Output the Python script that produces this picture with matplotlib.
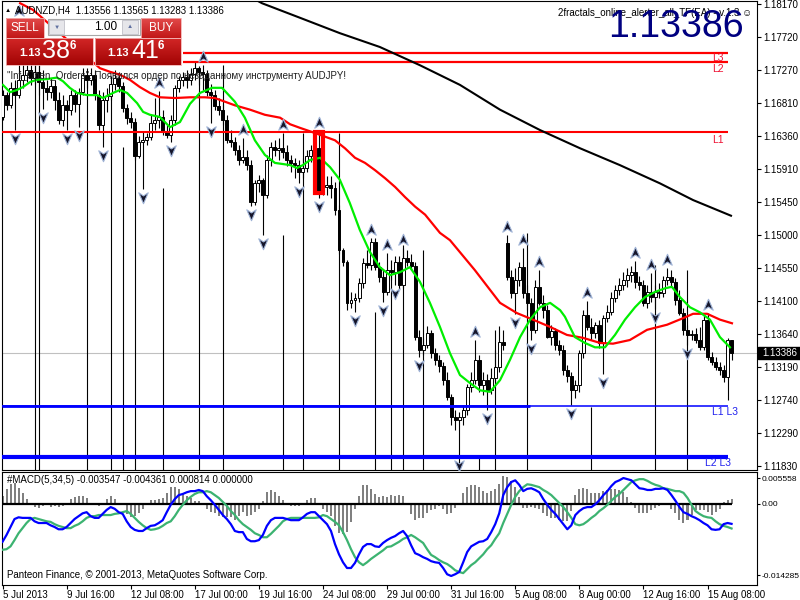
import numpy as np
import matplotlib
matplotlib.use("Agg")
import matplotlib.pyplot as plt
from matplotlib.patches import Rectangle
from matplotlib.path import Path
from matplotlib.colors import LinearSegmentedColormap

plt.rcParams['font.family'] = ['Liberation Sans', 'DejaVu Sans']

# ---------------- data ----------------
symbol_header = "AUDNZD,H4  1.13556 1.13565 1.13283 1.13386"
last_price = 1.13386

date_ticks = [0, 16, 32, 48, 64, 80, 96, 112, 128, 144, 160, 176]
date_labels = ['5 Jul 2013', '9 Jul 16:00', '12 Jul 08:00', '17 Jul 00:00', '19 Jul 16:00',
               '24 Jul 08:00', '29 Jul 00:00', '31 Jul 16:00', '5 Aug 08:00', '8 Aug 00:00',
               '12 Aug 16:00', '15 Aug 08:00']

price_ticks = [1.18170, 1.17720, 1.17270, 1.16810, 1.16360, 1.15910, 1.15450, 1.15000,
               1.14550, 1.14100, 1.13640, 1.13190, 1.12740, 1.12290, 1.11830]

opens = [1.1662,1.1692,1.1678,1.1702,1.1692,1.1713,1.1720,1.1726,1.1715,1.1724,
         1.1710,1.1702,1.1696,1.1705,1.1685,1.1658,1.1678,1.1672,1.1692,1.1680,
         1.1696,1.1720,1.1713,1.1720,1.1692,1.1651,1.1685,1.1691,1.1707,1.1715,
         1.1705,1.1674,1.1661,1.1655,1.1608,1.1628,1.1630,1.1635,1.1654,1.1658,
         1.1662,1.1641,1.1637,1.1658,1.1702,1.1713,1.1717,1.1713,1.1721,1.1729,
         1.1724,1.1721,1.1696,1.1692,1.1677,1.1672,1.1658,1.1630,1.1628,1.1617,
         1.1603,1.1607,1.1596,1.1545,1.1571,1.1576,1.1555,1.1603,1.1621,1.1617,
         1.1619,1.1614,1.1603,1.1599,1.1596,1.1587,1.1592,1.1608,1.1617,1.1619,
         1.1559,1.1566,1.1569,1.1565,1.1534,1.1480,1.1463,1.1407,1.1411,1.1414,
         1.1434,1.1462,1.1459,1.1490,1.1456,1.1442,1.1422,1.1452,1.1449,1.1463,
         1.1431,1.1469,1.1463,1.1458,1.1360,1.1342,1.1349,1.1366,1.1338,1.1329,
         1.1320,1.1301,1.1278,1.1250,1.1246,1.1250,1.1260,1.1292,1.1301,1.1329,
         1.1294,1.1301,1.1287,1.1304,1.1319,1.1353,1.1489,1.1442,1.1420,1.1438,
         1.1456,1.1420,1.1407,1.1370,1.1429,1.1407,1.1397,1.1360,1.1368,1.1349,
         1.1342,1.1315,1.1307,1.1287,1.1294,1.1338,1.1390,1.1374,1.1366,1.1377,
         1.1352,1.1386,1.1394,1.1414,1.1425,1.1431,1.1438,1.1445,1.1449,1.1436,
         1.1431,1.1407,1.1422,1.1415,1.1422,1.1420,1.1438,1.1442,1.1436,1.1411,
         1.1393,1.1370,1.1363,1.1364,1.1356,1.1346,1.1383,1.1333,1.1326,1.1319,
         1.1315,1.1305,1.13556]
highs = [1.1699,1.1696,1.1710,1.1713,1.1795,1.1740,1.1747,1.1740,1.1747,1.1740,
         1.1726,1.1713,1.1715,1.1713,1.1696,1.1692,1.1685,1.1699,1.1699,1.1702,
         1.1729,1.1729,1.1729,1.1726,1.1699,1.1696,1.1702,1.1718,1.1726,1.1724,
         1.1710,1.1680,1.1669,1.1661,1.1636,1.1641,1.1640,1.1665,1.1688,1.1698,
         1.1672,1.1651,1.1665,1.1706,1.1718,1.1724,1.1726,1.1729,1.1737,1.1732,
         1.1733,1.1726,1.1707,1.1699,1.1688,1.1680,1.1665,1.1644,1.1635,1.1624,
         1.1633,1.1617,1.1603,1.1576,1.1582,1.1578,1.1610,1.1628,1.1630,1.1633,
         1.1640,1.1624,1.1610,1.1606,1.1603,1.1606,1.1617,1.1624,1.1630,1.1643,
         1.1573,1.1581,1.1581,1.1573,1.1541,1.1482,1.1466,1.1422,1.1420,1.1441,
         1.1469,1.1480,1.1496,1.1496,1.1463,1.1452,1.1475,1.1466,1.1471,1.1471,
         1.1482,1.1480,1.1474,1.1463,1.1370,1.1359,1.1375,1.1370,1.1345,1.1335,
         1.1326,1.1312,1.1282,1.1260,1.1257,1.1267,1.1296,1.1312,1.1356,1.1335,
         1.1312,1.1309,1.1318,1.1342,1.1375,1.1370,1.1500,1.1452,1.1455,1.1463,
         1.1482,1.1431,1.1414,1.1438,1.1452,1.1418,1.1404,1.1377,1.1372,1.1356,
         1.1349,1.1322,1.1312,1.1301,1.1342,1.1397,1.1410,1.1386,1.1381,1.1383,
         1.1390,1.1404,1.1422,1.1431,1.1441,1.1449,1.1455,1.1458,1.1464,1.1444,
         1.1438,1.1431,1.1448,1.1431,1.1434,1.1444,1.1455,1.1452,1.1441,1.1425,
         1.1400,1.1377,1.1370,1.1372,1.1374,1.1390,1.1393,1.1340,1.1333,1.1326,
         1.1322,1.1359,1.13565]
lows = [1.1658,1.1672,1.1674,1.1644,1.1688,1.1702,1.1710,1.1706,1.1707,1.1692,
        1.1673,1.1685,1.1688,1.1672,1.1652,1.1650,1.1644,1.1665,1.1669,1.1648,
        1.1692,1.1702,1.1706,1.1685,1.1644,1.1621,1.1669,1.1685,1.1699,1.1696,
        1.1669,1.1652,1.1647,1.1603,1.1606,1.1563,1.1624,1.1630,1.1644,1.1647,
        1.1637,1.1633,1.1628,1.1651,1.1696,1.1705,1.1702,1.1706,1.1713,1.1706,
        1.1699,1.1691,1.1654,1.1672,1.1665,1.1651,1.1626,1.1621,1.1610,1.1596,
        1.1599,1.1589,1.1540,1.1541,1.1559,1.1500,1.1551,1.1595,1.1608,1.1603,
        1.1606,1.1595,1.1587,1.1578,1.1571,1.1578,1.1587,1.1600,1.1608,1.1551,
        1.1555,1.1555,1.1551,1.1528,1.1474,1.1458,1.1397,1.1400,1.1394,1.1408,
        1.1427,1.1455,1.1452,1.1452,1.1436,1.1408,1.1418,1.1438,1.1431,1.1425,
        1.1427,1.1458,1.1452,1.1356,1.1333,1.1335,1.1345,1.1331,1.1322,1.1312,
        1.1294,1.1274,1.1239,1.1233,1.1195,1.1239,1.1253,1.1285,1.1296,1.1285,
        1.1281,1.1260,1.1282,1.1298,1.1312,1.1342,1.1438,1.1414,1.1392,1.1430,
        1.1414,1.1397,1.1356,1.1366,1.1404,1.1386,1.1359,1.1349,1.1342,1.1335,
        1.1308,1.1298,1.1267,1.1276,1.1285,1.1331,1.1370,1.1356,1.1359,1.1345,
        1.1309,1.1381,1.1390,1.1408,1.1418,1.1425,1.1429,1.1436,1.1427,1.1425,
        1.1403,1.1400,1.1408,1.1399,1.1414,1.1415,1.1431,1.1430,1.1404,1.1390,
        1.1363,1.1349,1.1356,1.1352,1.1342,1.1342,1.1329,1.1322,1.1315,1.1308,
        1.1298,1.1274,1.13283]
closes = [1.1692,1.1678,1.1702,1.1692,1.1713,1.1720,1.1726,1.1715,1.1724,1.1710,
          1.1702,1.1696,1.1705,1.1685,1.1658,1.1678,1.1672,1.1692,1.1680,1.1696,
          1.1720,1.1713,1.1720,1.1692,1.1651,1.1685,1.1691,1.1707,1.1715,1.1705,
          1.1674,1.1661,1.1655,1.1608,1.1628,1.1630,1.1635,1.1654,1.1658,1.1662,
          1.1641,1.1637,1.1658,1.1702,1.1713,1.1717,1.1713,1.1721,1.1729,1.1724,
          1.1721,1.1696,1.1692,1.1677,1.1672,1.1658,1.1630,1.1628,1.1617,1.1603,
          1.1607,1.1596,1.1545,1.1571,1.1576,1.1555,1.1603,1.1621,1.1617,1.1619,
          1.1614,1.1603,1.1599,1.1596,1.1587,1.1592,1.1608,1.1617,1.1619,1.1559,
          1.1566,1.1569,1.1565,1.1534,1.1480,1.1463,1.1407,1.1411,1.1414,1.1434,
          1.1462,1.1459,1.1490,1.1456,1.1442,1.1422,1.1452,1.1449,1.1463,1.1431,
          1.1469,1.1463,1.1458,1.1360,1.1342,1.1349,1.1366,1.1338,1.1329,1.1320,
          1.1301,1.1278,1.1250,1.1246,1.1250,1.1260,1.1292,1.1301,1.1329,1.1294,
          1.1301,1.1287,1.1304,1.1319,1.1353,1.1349,1.1442,1.1420,1.1438,1.1456,
          1.1420,1.1407,1.1370,1.1429,1.1407,1.1397,1.1360,1.1368,1.1349,1.1342,
          1.1315,1.1307,1.1287,1.1294,1.1338,1.1390,1.1374,1.1366,1.1377,1.1352,
          1.1386,1.1394,1.1414,1.1425,1.1431,1.1438,1.1445,1.1449,1.1436,1.1431,
          1.1407,1.1422,1.1415,1.1422,1.1420,1.1438,1.1442,1.1436,1.1411,1.1393,
          1.1370,1.1363,1.1364,1.1356,1.1346,1.1383,1.1333,1.1326,1.1319,1.1315,
          1.1305,1.13556,1.13386]

macd_main = [-0.0067,-0.0055,-0.0041,-0.0027,-0.0024,-0.0025,-0.0025,-0.0025,-0.0031,-0.0034,
             -0.0034,-0.0034,-0.0038,-0.0041,-0.0045,-0.0045,-0.0041,-0.0034,-0.0027,-0.0022,
             -0.0017,-0.0015,-0.0022,-0.0025,-0.0025,-0.0018,-0.0011,-0.0006,-0.0009,-0.0015,
             -0.0018,-0.0031,-0.0041,-0.0046,-0.0048,-0.0048,-0.0043,-0.0039,-0.0038,-0.0034,
             -0.0029,-0.0015,-0.0002,0.0008,0.0015,0.0017,0.0020,0.0022,0.0022,0.0024,
             0.0022,0.0013,0.0006,-0.0002,-0.0011,-0.0020,-0.0027,-0.0036,-0.0048,-0.0050,
             -0.0050,-0.0062,-0.0066,-0.0066,-0.0064,-0.0055,-0.0039,-0.0029,-0.0025,-0.0025,
             -0.0025,-0.0027,-0.0029,-0.0029,-0.0029,-0.0024,-0.0018,-0.0015,-0.0015,-0.0022,
             -0.0029,-0.0036,-0.0048,-0.0071,-0.0089,-0.0103,-0.0113,-0.0113,-0.0104,-0.0089,
             -0.0076,-0.0071,-0.0071,-0.0075,-0.0076,-0.0069,-0.0064,-0.0060,-0.0057,-0.0052,
             -0.0048,-0.0057,-0.0073,-0.0087,-0.0090,-0.0094,-0.0097,-0.0101,-0.0103,-0.0104,
             -0.0113,-0.0124,-0.0127,-0.0124,-0.0120,-0.0103,-0.0085,-0.0075,-0.0071,-0.0067,
             -0.0066,-0.0062,-0.0050,-0.0036,-0.0017,0.0015,0.0029,0.0038,0.0041,0.0033,
             0.0022,0.0026,0.0027,0.0024,0.0020,0.0008,-0.0002,-0.0011,-0.0018,-0.0027,
             -0.0036,-0.0045,-0.0038,-0.0020,-0.0013,-0.0008,-0.0006,-0.0006,-0.0001,0.0006,
             0.0015,0.0022,0.0031,0.0038,0.0041,0.0045,0.0043,0.0041,0.0034,0.0027,
             0.0026,0.0024,0.0024,0.0026,0.0026,0.0027,0.0024,0.0015,0.0005,-0.0006,
             -0.0015,-0.0018,-0.0022,-0.0025,-0.0029,-0.0034,-0.0038,-0.0045,-0.0046,-0.0045,
             -0.0036,-0.0034,-0.003547]
macd_signal = [-0.0081,-0.0080,-0.0075,-0.0064,-0.0052,-0.0043,-0.0034,-0.0027,-0.0025,-0.0027,
               -0.0029,-0.0031,-0.0032,-0.0036,-0.0039,-0.0041,-0.0043,-0.0043,-0.0039,-0.0036,
               -0.0031,-0.0025,-0.0022,-0.0022,-0.0020,-0.0020,-0.0020,-0.0020,-0.0018,-0.0017,
               -0.0015,-0.0013,-0.0018,-0.0025,-0.0032,-0.0038,-0.0043,-0.0046,-0.0045,-0.0043,
               -0.0039,-0.0034,-0.0031,-0.0022,-0.0011,-0.0002,0.0006,0.0012,0.0017,0.0020,
               0.0020,0.0022,0.0020,0.0015,0.0010,0.0003,-0.0004,-0.0013,-0.0020,-0.0029,
               -0.0036,-0.0041,-0.0046,-0.0052,-0.0055,-0.0059,-0.0059,-0.0053,-0.0046,-0.0039,
               -0.0031,-0.0027,-0.0025,-0.0025,-0.0025,-0.0025,-0.0025,-0.0025,-0.0025,-0.0024,
               -0.0020,-0.0022,-0.0027,-0.0032,-0.0038,-0.0050,-0.0064,-0.0080,-0.0094,-0.0103,
               -0.0108,-0.0103,-0.0097,-0.0092,-0.0087,-0.0082,-0.0076,-0.0075,-0.0071,-0.0067,
               -0.0062,-0.0059,-0.0055,-0.0059,-0.0064,-0.0069,-0.0080,-0.0090,-0.0094,-0.0099,
               -0.0103,-0.0106,-0.0111,-0.0117,-0.0120,-0.0122,-0.0115,-0.0108,-0.0103,-0.0096,
               -0.0089,-0.0080,-0.0073,-0.0062,-0.0052,-0.0034,-0.0018,-0.0002,0.0012,0.0022,
               0.0029,0.0034,0.0033,0.0031,0.0029,0.0024,0.0020,0.0015,0.0008,0.0001,
               -0.0006,-0.0015,-0.0025,-0.0036,-0.0038,-0.0036,-0.0031,-0.0025,-0.0020,-0.0013,
               -0.0008,-0.0002,0.0005,0.0012,0.0017,0.0024,0.0031,0.0038,0.0041,0.0043,
               0.0043,0.0040,0.0036,0.0033,0.0031,0.0027,0.0026,0.0024,0.0022,0.0022,
               0.0019,0.0010,-0.0002,-0.0013,-0.0018,-0.0022,-0.0024,-0.0025,-0.0031,-0.0036,
               -0.0039,-0.0041,-0.004361]

# moving averages (bar position, value)
ma_fast_x = [0.1,1.9,3.6,5.1,6.9,8.6,11.1,13.6,15.1,16.8,18.6,21.1,23.6,25.1,27.6,29.3,31.1,33.6,
             35.1,36.8,39.3,41.8,44.3,46.8,49.3,52.3,54.8,58.0,60.5,63.0,65.5,68.0,71.8,73.5,75.0,
             76.8,79.3,81.8,84.2,86.7,89.2,91.7,94.2,96.7,99.2,101.7,104.2,106.7,109.2,111.7,114.2,
             116.7,119.2,121.7,124.2,126.7,129.2,131.7,134.2,136.7,139.2,140.4,142.9,145.4,147.9,
             150.4,152.9,155.4,157.9,160.4,162.9,165.4,167.1,169.1,171.6,174.1,176.6,179.1,181.6]
ma_fast_y = [1.1706,1.1696,1.1699,1.1703,1.1710,1.1713,1.1714,1.1716,1.1711,1.1702,1.1695,1.1692,
             1.1692,1.1688,1.1695,1.1699,1.1695,1.1681,1.1669,1.1665,1.1662,1.1648,1.1655,1.1680,
             1.1695,1.1702,1.1702,1.1683,1.1661,1.1630,1.1610,1.1599,1.1596,1.1592,1.1596,1.1603,
             1.1606,1.1593,1.1576,1.1544,1.1507,1.1477,1.1456,1.1445,1.1449,1.1456,1.1436,1.1407,
             1.1374,1.1338,1.1308,1.1297,1.1287,1.1285,1.1301,1.1329,1.1360,1.1384,1.1401,1.1407,
             1.1397,1.1388,1.1360,1.1352,1.1346,1.1346,1.1363,1.1384,1.1401,1.1415,1.1422,1.1427,
             1.1429,1.1415,1.1401,1.1394,1.1384,1.1360,1.1346]
ma_mid_x = [4.4,7.6,24.3,26.8,29.3,31.8,34.3,36.8,39.3,43.1,46.8,50.5,53.0,55.5,58.0,61.8,65.5,
            69.3,71.8,74.3,78.0,80.5,83.0,85.5,88.0,90.5,93.0,95.5,98.0,100.5,103.0,105.5,109.2,
            111.7,117.9,124.2,128.4,132.4,136.7,140.9,144.9,149.2,152.4,156.6,160.9,165.9,169.9,
            172.4,175.9,179.1,182.1]
ma_mid_y = [1.1818,1.1809,1.1729,1.1724,1.1720,1.1713,1.1703,1.1695,1.1689,1.1688,1.1689,1.1689,
            1.1688,1.1683,1.1678,1.1672,1.1665,1.1661,1.1652,1.1647,1.1640,1.1635,1.1630,1.1619,
            1.1606,1.1599,1.1589,1.1578,1.1566,1.1552,1.1539,1.1528,1.1503,1.1493,1.1452,1.1407,
            1.1393,1.1384,1.1374,1.1363,1.1359,1.1352,1.1351,1.1356,1.1370,1.1377,1.1386,1.1392,
            1.1392,1.1384,1.1379]
ma_slow_x = [61.8,64.8,74.3,84.2,94.2,104.2,114.2,124.2,134.2,144.2,154.1,164.1,172.4,182.1]
ma_slow_y = [1.1827,1.1818,1.1798,1.1777,1.1758,1.1733,1.1706,1.1672,1.1644,1.1619,1.1596,1.1571,
             1.1548,1.1526]

# fractals
frac_up_x = [4,39,50,60,70,79,92,96,100,118,126,130,134,146,158,162,166,176]
frac_up_y = [1.18074,1.17086,1.17443,1.16441,1.16510,1.16537,1.15069,1.14864,1.14932,1.13670,
             1.15111,1.14932,1.14630,1.14205,1.14754,1.14589,1.14658,1.14040]
frac_dn_x = [3,10,16,19,25,35,42,52,62,65,74,79,88,95,98,104,114,121,128,132,142,150,163,171]
frac_dn_y = [1.16332,1.16620,1.16332,1.16373,1.16098,1.15522,1.16167,1.16428,1.15289,1.14891,
             1.15604,1.15399,1.13835,1.13972,1.14205,1.13217,1.11845,1.12490,1.13807,1.13450,
             1.12559,1.12984,1.13876,1.13382]

# vertical marker lines (bar, top price)
vline_x = [8,9,21,27,30,33,40,49,55,70,75,84,93,97,100,105,114,119,123,131,147,163,171]
vline_top = [1.1760,1.1760,1.1717,1.1717,1.1621,1.1654,1.1565,1.1731,1.1733,1.1500,1.1640,1.1640,
             1.1394,1.1448,1.1486,1.1480,1.1196,1.1196,1.1370,1.1503,1.1264,1.1459,1.1452]

# horizontal levels
red_L3, red_L2, red_L1 = 1.17494, 1.17370, 1.16414
blue_L1L3, blue_L2L3 = 1.12659, 1.11955

# ---------------- figure ----------------
W, H = 800, 600
fig = plt.figure(figsize=(8, 6), dpi=100)
fig.patch.set_facecolor('white')

def frect(x0, y0, x1, y1):
    return [x0 / W, 1 - y1 / H, (x1 - x0) / W, (y1 - y0) / H]

ax = fig.add_axes(frect(2, 1, 757, 470))
axm = fig.add_axes(frect(2, 472, 757, 585))
XL = (-0.125, 188.35)
YL = (1.11777, 1.18211)
ax.set_xlim(*XL); axm.set_xlim(*XL)
ax.set_ylim(*YL)
axm.set_ylim(-0.014285, 0.005558)

N = len(closes)
idx = np.arange(N)
o = np.array(opens); h = np.array(highs); l = np.array(lows); c = np.array(closes)

# current price line
ax.axhline(last_price, color='#c0c0c0', lw=0.8, zorder=1)

# vertical lines
ax.vlines(vline_x, YL[0], vline_top, color='black', lw=0.8, zorder=2)

# candles
ax.vlines(idx, l, h, color='black', lw=0.8, zorder=3)
for i in range(N):
    bot = min(o[i], c[i]); ht = max(abs(c[i] - o[i]), 0.00004)
    bull = c[i] >= o[i]
    ax.add_patch(Rectangle((i - 0.37, bot), 0.74, ht, facecolor='white' if bull else 'black',
                           edgecolor='black', lw=0.7, zorder=4))

# horizontal levels
ax.hlines([red_L3, red_L2], 45, 181.1, color='#ff0000', lw=1.6, zorder=5)
ax.hlines(red_L1, XL[0], 181.1, color='#ff0000', lw=1.5, zorder=5)
ax.hlines(blue_L1L3, XL[0], 181.1, color='#0000ff', lw=1.1, zorder=5)
ax.hlines(blue_L1L3, XL[0], 131.7, color='#0000ff', lw=2.0, zorder=5)
ax.hlines(blue_L2L3, XL[0], 181.1, color='#0000ff', lw=3.0, zorder=5)

# moving averages
ax.plot(ma_slow_x, ma_slow_y, color='black', lw=1.5, zorder=6, solid_capstyle='butt')
ax.plot(ma_mid_x, ma_mid_y, color='#ff0000', lw=1.6, zorder=6)
ax.plot(ma_fast_x, ma_fast_y, color='#00ee00', lw=1.6, zorder=6)

# highlighted bar rectangle
ax.add_patch(Rectangle((78, 1.1558), 2, 1.1641 - 1.1558, fill=False, edgecolor='#ff0000',
                       lw=3.0, zorder=7))

# fractal arrows
up_path = Path([(0, 1), (0.75, -0.75), (0, -0.25), (-0.75, -0.75), (0, 1)],
               [Path.MOVETO, Path.LINETO, Path.LINETO, Path.LINETO, Path.CLOSEPOLY])
dn_path = Path([(0, -1), (0.75, 0.75), (0, 0.25), (-0.75, 0.75), (0, -1)],
               [Path.MOVETO, Path.LINETO, Path.LINETO, Path.LINETO, Path.CLOSEPOLY])
ax.plot(frac_up_x, frac_up_y, ls='none', marker=up_path, ms=9, mfc='#15152a', mec='#9fb3d6',
        mew=0.8, zorder=8)
ax.plot(frac_dn_x, frac_dn_y, ls='none', marker=dn_path, ms=9, mfc='#15152a', mec='#9fb3d6',
        mew=0.8, zorder=8)

# main axis styling
ax.yaxis.tick_right()
ax.set_yticks(price_ticks)
ax.set_yticklabels([f'{v:.5f}' for v in price_ticks])
ax.tick_params(axis='y', direction='out', length=3, width=0.8, pad=1.5, labelsize=7)
ax.set_xticks([])
for sp in ax.spines.values():
    sp.set_linewidth(0.8); sp.set_color('black')

# MACD panel
hist = np.array(macd_main) - np.array(macd_signal)
axm.bar(idx, hist, width=0.5, color='#808080', zorder=2)
axm.hlines(0, 0, N - 1, color='black', lw=1.6, zorder=3)
axm.plot(idx, macd_signal, color='#3cb371', lw=1.6, zorder=4)
axm.plot(idx, macd_main, color='#0000ff', lw=1.6, zorder=5)
axm.yaxis.tick_right()
axm.set_yticks([0.004417, 0.0, -0.012529])
axm.set_yticklabels(['0.005558', '0.00', '-0.014285'])
axm.tick_params(axis='y', direction='out', length=2.5, width=0.8, pad=0.8, labelsize=6)
axm.set_xticks(date_ticks)
axm.set_xticklabels(date_labels)
axm.tick_params(axis='x', direction='out', length=3, width=0.8, pad=0.3, labelsize=7)
for t in axm.get_xticklabels():
    t.set_ha('left')
for sp in axm.spines.values():
    sp.set_linewidth(0.8); sp.set_color('black')

# ---------------- overlay (pixel coordinates) ----------------
ov = fig.add_axes([0, 0, 1, 1], zorder=20)
ov.axis('off')

def grad_box(x0, y0, x1, y1, ctop, cbot, edge='#f2b0b0'):
    g = np.linspace(0, 1, 64).reshape(-1, 1)
    cmap = LinearSegmentedColormap.from_list('g', [ctop, cbot])
    ov.imshow(g, extent=(x0, x1, y1, y0), aspect='auto', cmap=cmap, origin='upper',
              interpolation='bilinear', zorder=1)
    ov.add_patch(Rectangle((x0, y0), x1 - x0, y1 - y0, fill=False, edgecolor=edge, lw=0.6, zorder=2))

# trade panel
grad_box(6, 18, 44, 38, '#e24a4a', '#c21818')
grad_box(141, 18, 181, 38, '#e24a4a', '#c21818')
grad_box(6, 38, 93, 65, '#d22626', '#a20404')
grad_box(95, 38, 181, 65, '#d22626', '#a20404')
ov.add_patch(Rectangle((48, 19), 92, 16, facecolor='white', edgecolor='#a8a8a8', lw=0.8, zorder=2))
ov.add_patch(Rectangle((49, 20), 15, 14, facecolor='#e6e6ea', edgecolor='#c0c0c8', lw=0.6, zorder=3))
ov.add_patch(Rectangle((122, 20), 16, 14, facecolor='#e6e6ea', edgecolor='#c0c0c8', lw=0.6, zorder=3))
ov.text(56.5, 27, '▼', fontsize=4.5, color='#6070a0', ha='center', va='center', zorder=4)
ov.text(130, 27, '▲', fontsize=4.5, color='#6070a0', ha='center', va='center', zorder=4)
ov.text(117, 27.5, '1.00', fontsize=8.5, color='black', ha='right', va='center', zorder=4)
ov.text(25, 28, 'SELL', fontsize=8.5, color='white', ha='center', va='center', zorder=4)
ov.text(161, 28, 'BUY', fontsize=8.5, color='white', ha='center', va='center', zorder=4)
ov.text(19, 53.5, '1.13', fontsize=8, fontweight='bold', color='white', va='center', zorder=4)
ov.text(42, 51, '38', fontsize=18, color='white', va='center', zorder=4)
ov.text(70, 46, '6', fontsize=8.5, fontweight='bold', color='white', va='center', zorder=4)
ov.text(107, 53.5, '1.13', fontsize=8, fontweight='bold', color='white', va='center', zorder=4)
ov.text(131, 51, '41', fontsize=18, color='white', va='center', zorder=4)
ov.text(158, 46, '6', fontsize=8.5, fontweight='bold', color='white', va='center', zorder=4)

# header texts
ov.text(5, 11, '▲', fontsize=4.5, color='black', va='center', zorder=4)
ov.text(15, 10.5, symbol_header, fontsize=7, color='black', va='center', zorder=4)
ov.text(7, 76, '"Inf_Open_Orders": Появился ордер по незаданному инструменту AUDJPY!',
        fontsize=7, color='#202020', va='center', zorder=4)
ov.text(752, 13, '2fractals_online_alerter_all_TF(EA) - v.1.3 ☺', fontsize=7, color='black',
        ha='right', va='center', zorder=4)
ov.text(744, 27, '1.13386', fontsize=27, color='#000080', ha='right', va='center', zorder=5)

# level labels
ov.text(712, 58, 'L3', fontsize=7.5, color='#ee1133', va='center', zorder=4)
ov.text(712, 69, 'L2', fontsize=7.5, color='#ee1133', va='center', zorder=4)
ov.text(712, 140, 'L1', fontsize=7.5, color='#ee1133', va='center', zorder=4)
ov.text(712, 412, 'L1 L3', fontsize=7.5, color='#2020ee', va='center', zorder=4)
ov.text(705, 463, 'L2 L3', fontsize=7.5, color='#2020ee', va='center', zorder=4)

# current price tag
ov.add_patch(Rectangle((758, 347), 42, 12, facecolor='black', edgecolor='black', zorder=4))
ov.text(762, 353, '1.13386', fontsize=7, color='white', va='center', zorder=5)

# MACD texts
ov.text(7, 480, '#MACD(5,34,5) -0.003547 -0.004361 0.000814 0.000000', fontsize=7,
        color='black', va='center', zorder=4)
ov.text(7, 575, 'Panteon Finance, © 2001-2013, MetaQuotes Software Corp.', fontsize=7,
        color='black', va='center', zorder=4)

ov.set_xlim(0, 800)
ov.set_ylim(600, 0)

fig.savefig('out.png', dpi=100, facecolor='white')
